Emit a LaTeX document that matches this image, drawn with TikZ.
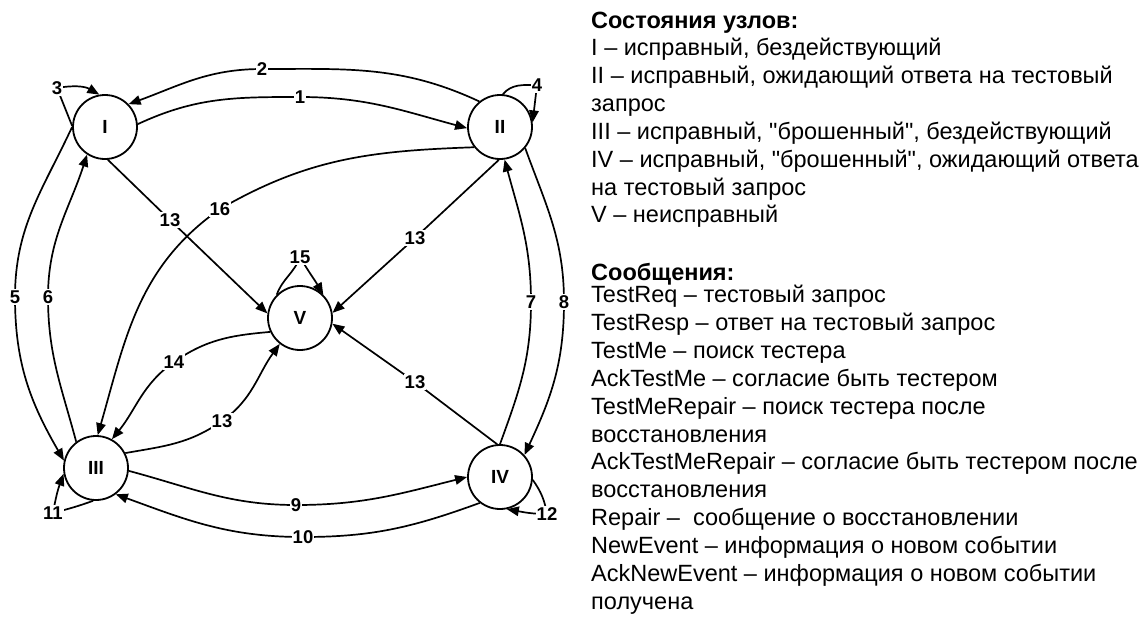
\documentclass[tikz,border=0pt]{standalone}
\usepackage{fontspec}
\setmainfont{Liberation Sans}
\newfontfamily\lgfont{Liberation Sans}
\usetikzlibrary{arrows.meta,backgrounds}
\begin{document}
\begin{tikzpicture}[x=1pt,y=1pt,
  st/.style={circle,draw,line width=1.8pt,fill=white,minimum size=64pt,inner sep=0pt,font=\fontsize{19}{19}\selectfont\bfseries},
  lbl/.style={fill=white,inner sep=1.2pt,font=\fontsize{18.5}{18.5}\selectfont\bfseries},
  edge/.style={line width=1.7pt,-{Triangle[length=12pt,width=9.5pt]}},
  txt/.style={anchor=base west,inner sep=0pt,font=\lgfont\fontsize{23.5}{26}\selectfont},
  hdr/.style={anchor=base west,inner sep=0pt,font=\lgfont\fontsize{23.5}{26}\selectfont\bfseries}]
\useasboundingbox (0,0) rectangle (1145,-621);

% states
\node[st] (I) at (105,-127) {I};
\node[st] (II) at (500,-127) {II};
\node[st] (V) at (300,-318) {V};
\node[st] (III) at (96,-468) {III};
\node[st] (IV) at (500,-477) {IV};

% edge labels
\node[lbl] (l1) at (300,-97) {1};
\node[lbl] (l2) at (262,-69) {2};
\node[lbl] (l3) at (57,-88) {3};
\node[lbl] (l4) at (537,-85) {4};
\node[lbl] (l5) at (15,-297) {5};
\node[lbl] (l6) at (48,-297) {6};
\node[lbl] (l7) at (531,-302) {7};
\node[lbl] (l8) at (564,-302) {8};
\node[lbl] (l9) at (296,-505) {9};
\node[lbl] (l10) at (303,-537) {10};
\node[lbl] (l11) at (53,-513) {11};
\node[lbl] (l12) at (547,-514) {12};
\node[lbl] (l13a) at (170,-220) {13};
\node[lbl] (l13b) at (415,-238) {13};
\node[lbl] (l13c) at (415,-382) {13};
\node[lbl] (l13d) at (222,-421) {13};
\node[lbl] (l14) at (174,-362) {14};
\node[lbl] (l15) at (300,-257) {15};
\node[lbl] (l16) at (220,-209) {16};

\begin{scope}[on background layer]
\draw[edge] (I.5) to[out=25,in=180] (l1.center) to[out=0,in=165] (II.182);
\draw[edge] (II.129) to[out=155,in=0] (l2.center) to[out=180,in=20] (I.44);
\draw[edge] (I.178) -- (l3.center) to[out=10,in=150] (I.100);
\draw[edge] (II.85) to[out=50,in=180] (l4.center) -- (II.8);
\draw[edge] (I.180) to[out=245,in=90] (l5.center) to[out=-90,in=120] (III.167);
\draw[edge] (III.127) to[out=105,in=-90] (l6.center) to[out=90,in=-108] (I.237);
\draw[edge] (IV.90) to[out=70,in=-90] (l7.center) to[out=90,in=-75] (II.-82);
\draw[edge] (II.-40) to[out=-70,in=90] (l8.center) to[out=-90,in=65] (IV.42);
\draw[edge] (III.-5) to[out=-15,in=180] (l9.center) to[out=0,in=-166] (IV.180);
\draw[edge] (IV.232) to[out=200,in=0] (l10.center) to[out=180,in=-20] (III.-53);
\draw[edge] (III.-95) to[out=200,in=15] (l11.center) to[out=80,in=250] (III.190);
\draw[edge] (IV.-5) to[out=-55,in=100] (l12.center) to[out=180,in=-10] (IV.-78);
\draw[edge] (I.-85) -- (l13a.center) -- (V.172);
\draw[edge] (II.-92) -- (l13b.center) -- (V.9);
\draw[edge] (IV.95) -- (l13c.center) -- (V.-10);
\draw[edge] (III.27) to[out=10,in=215] (l13d.center) to[out=35,in=234] (V.232);
\draw[edge] (V.205) to[out=185,in=35] (l14.center) to[out=215,in=51] (III.61);
\draw[edge] (V.135) to[out=70,in=-110] (l15.center) to[out=-60,in=120] (V.45);
\draw[edge] (II.218) to[out=182,in=30] (l16.center) to[out=215,in=74] (III.87);
\end{scope}

% legend
\node[hdr] (h1) at (591,-28.5) {Состояния узлов:};
\node[txt] (s1) at (591,-55.5) {I – исправный, бездействующий};
\node[txt] (s2) at (591,-83.4) {II – исправный, ожидающий ответа на тестовый};
\node[txt] (s3) at (591,-111.3) {запрос};
\node[txt] (s4) at (591,-139.2) {III – исправный, "брошенный", бездействующий};
\node[txt] (s5) at (591,-167.1) {IV – исправный, "брошенный", ожидающий ответа};
\node[txt] (s6) at (591,-195) {на тестовый запрос};
\node[txt] (s7) at (591,-222.9) {V – неисправный};
\node[hdr] (h2) at (591,-280) {Сообщения:};
\node[txt] (m1) at (591,-302.5) {TestReq – тестовый запрос};
\node[txt] (m2) at (591,-330.4) {TestResp – ответ на тестовый запрос};
\node[txt] (m3) at (591,-358.3) {TestMe – поиск тестера};
\node[txt] (m4) at (591,-386.2) {AckTestMe – согласие быть тестером};
\node[txt] (m5) at (591,-414.1) {TestMeRepair – поиск тестера после};
\node[txt] (m6) at (591,-442) {восстановления};
\node[txt] (m7) at (591,-469.9) {AckTestMeRepair – согласие быть тестером после};
\node[txt] (m8) at (591,-497.8) {восстановления};
\node[txt] (m9) at (591,-525.7) {Repair –\ \ сообщение о восстановлении};
\node[txt] (m10) at (591,-553.6) {NewEvent – информация о новом событии};
\node[txt] (m11) at (591,-581.5) {AckNewEvent – информация о новом событии};
\node[txt] (m12) at (591,-609.4) {получена};
\end{tikzpicture}
\end{document}
